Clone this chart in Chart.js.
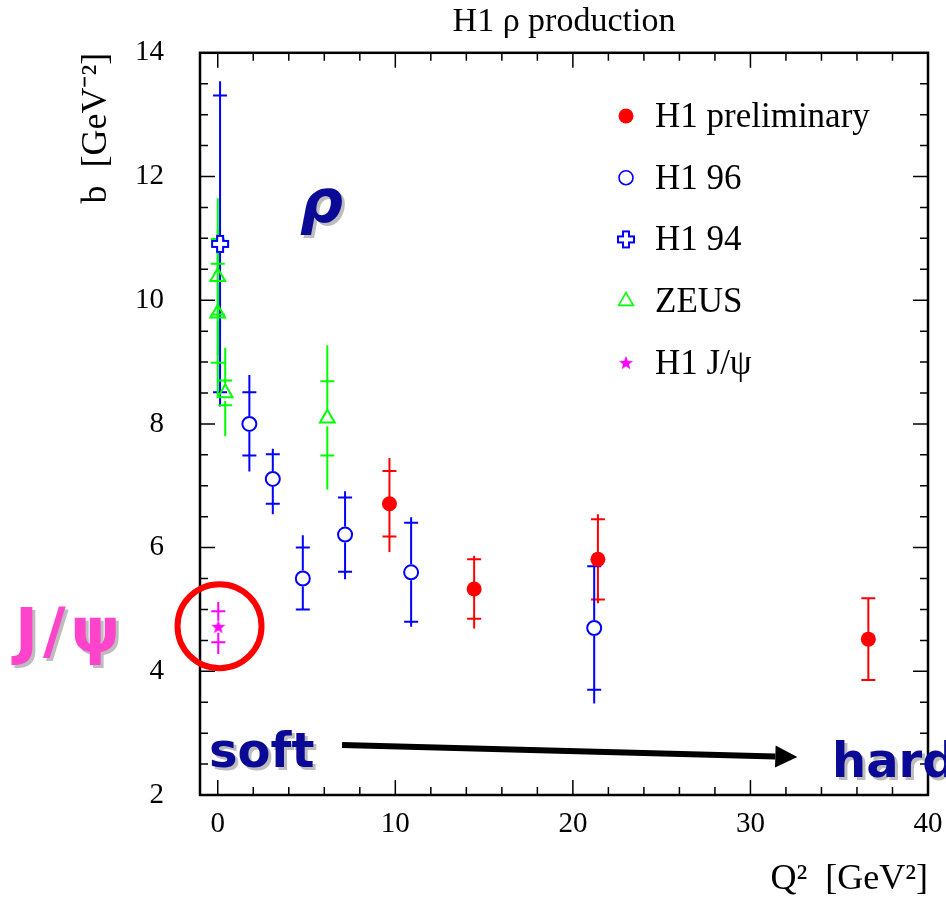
<!DOCTYPE html>
<html>
<head>
<meta charset="utf-8">
<script src="https://cdn.jsdelivr.net/npm/chart.js@4.4.1/dist/chart.umd.min.js"></script>
<style>
  html, body { margin: 0; padding: 0; background: #fff; }
  canvas { display: block; }
</style>
</head>
<body>
<canvas id="bChart" width="946" height="901"></canvas>
<script>
// axis ticks
const xTickValues = [0, 2, 4, 6, 8, 10, 12, 14, 16, 18, 20, 22, 24, 26, 28, 30, 32, 34, 36, 38, 40];
const yTickValues = [2, 2.5, 3, 3.5, 4, 4.5, 5, 5.5, 6, 6.5, 7, 7.5, 8, 8.5, 9, 9.5, 10, 10.5, 11, 11.5, 12, 12.5, 13, 13.5, 14];

// H1 preliminary
const prelimQ2 = [9.67, 14.44, 21.41, 36.64];
const prelimB = [6.71, 5.33, 5.81, 4.52];
const prelimStat = [0.53, 0.48, 0.65, 0.66];
const prelimTotUp = [0.74, 0.54, 0.73, 0.67];
const prelimTotDn = [0.78, 0.64, 0.71, 0.67];

// H1 96
const h196Q2 = [1.78, 3.10, 4.79, 7.17, 10.89, 21.20];
const h196B = [8.00, 7.11, 5.50, 6.21, 5.60, 4.70];
const h196Stat = [0.51, 0.40, 0.50, 0.60, 0.80, 1.00];
const h196TotUp = [0.79, 0.49, 0.70, 0.70, 0.89, 1.21];
const h196TotDn = [0.77, 0.57, 0.51, 0.72, 0.88, 1.22];

// H1 94
const h194Q2 = [0.13];
const h194B = [10.91];
const h194Stat = [2.40];
const h194TotUp = [2.63];
const h194TotDn = [2.63];

// ZEUS
const zeusQ2 = [0.0, 0.0, 0.42, 6.17];
const zeusB = [10.38, 9.79, 8.50, 8.09];
const zeusStat = [0.61, 0.80, 0.20, 0.60];
const zeusTotUp = [1.27, 1.35, 0.73, 1.18];
const zeusTotDn = [1.27, 1.35, 0.70, 1.15];

// H1 J/psi
const jpsiQ2 = [0.03];
const jpsiB = [4.72];
const jpsiStat = [0.25];
const jpsiTotUp = [0.40];
const jpsiTotDn = [0.44];

function makePoints(q2, b, stat, up, dn) {
  return q2.map((x, i) => ({ x: x, y: b[i], stat: stat[i], up: up[i], dn: dn[i] }));
}

// open cross marker
function openCross(color) {
  const c = document.createElement('canvas');
  c.width = 20; c.height = 20;
  const g = c.getContext('2d');
  const m = 10, a = 3, l = 8;
  g.beginPath();
  g.moveTo(m - a, m - l); g.lineTo(m + a, m - l); g.lineTo(m + a, m - a);
  g.lineTo(m + l, m - a); g.lineTo(m + l, m + a); g.lineTo(m + a, m + a);
  g.lineTo(m + a, m + l); g.lineTo(m - a, m + l); g.lineTo(m - a, m + a);
  g.lineTo(m - l, m + a); g.lineTo(m - l, m - a); g.lineTo(m - a, m - a);
  g.closePath();
  g.fillStyle = '#fff';
  g.fill();
  g.strokeStyle = color;
  g.lineWidth = 2;
  g.stroke();
  return c;
}

// filled star marker
function filledStar(color) {
  const c = document.createElement('canvas');
  c.width = 16; c.height = 16;
  const g = c.getContext('2d');
  g.beginPath();
  for (let i = 0; i < 10; i++) {
    const r = i % 2 === 0 ? 7.5 : 3;
    const ang = -Math.PI / 2 + i * Math.PI / 5;
    const px = 8 + r * Math.cos(ang), py = 8.5 + r * Math.sin(ang);
    if (i === 0) g.moveTo(px, py); else g.lineTo(px, py);
  }
  g.closePath();
  g.fillStyle = color;
  g.fill();
  return c;
}

const datasets = [
  { label: 'H1 preliminary', data: makePoints(prelimQ2, prelimB, prelimStat, prelimTotUp, prelimTotDn),
    pointStyle: 'circle', pointRadius: 7.5, backgroundColor: '#ff0000', borderColor: '#ff0000', borderWidth: 0, gap: 0 },
  { label: 'H1 96', data: makePoints(h196Q2, h196B, h196Stat, h196TotUp, h196TotDn),
    pointStyle: 'circle', pointRadius: 7, backgroundColor: 'rgba(255,255,255,0)', borderColor: '#0000ff', borderWidth: 2, gap: 8 },
  { label: 'H1 94', data: makePoints(h194Q2, h194B, h194Stat, h194TotUp, h194TotDn),
    pointStyle: openCross('#0000ff'), pointRadius: 9, backgroundColor: '#0000ff', borderColor: '#0000ff', borderWidth: 2, gap: 9 },
  { label: 'ZEUS', data: makePoints(zeusQ2, zeusB, zeusStat, zeusTotUp, zeusTotDn),
    pointStyle: 'triangle', pointRadius: 8.5, backgroundColor: 'rgba(255,255,255,0)', borderColor: '#00ff00', borderWidth: 2, gap: 8 },
  { label: 'H1 J/\u03c8', data: makePoints(jpsiQ2, jpsiB, jpsiStat, jpsiTotUp, jpsiTotDn),
    pointStyle: filledStar('#ff00ff'), pointRadius: 7, backgroundColor: '#ff00ff', borderColor: '#ff00ff', borderWidth: 0, gap: 6 }
];

// error bars: full line = total error, small bars = statistical error
const errorBars = {
  id: 'errorBars',
  beforeDatasetsDraw(chart) {
    const { ctx, scales: { x, y } } = chart;
    ctx.save();
    ctx.lineWidth = 2;
    chart.data.datasets.forEach(ds => {
      ctx.strokeStyle = ds.borderColor;
      ds.data.forEach(p => {
        const px = x.getPixelForValue(p.x), py = y.getPixelForValue(p.y);
        const top = y.getPixelForValue(p.y + p.up), bot = y.getPixelForValue(p.y - p.dn);
        const sTop = y.getPixelForValue(p.y + p.stat), sBot = y.getPixelForValue(p.y - p.stat);
        ctx.beginPath();
        ctx.moveTo(px, top); ctx.lineTo(px, py - ds.gap);
        ctx.moveTo(px, py + ds.gap); ctx.lineTo(px, bot);
        ctx.moveTo(px - 7, sTop); ctx.lineTo(px + 7, sTop);
        ctx.moveTo(px - 7, sBot); ctx.lineTo(px + 7, sBot);
        ctx.stroke();
      });
    });
    ctx.restore();
  }
};

function drawMarker(ctx, ds, x, y) {
  const st = ds.pointStyle;
  ctx.save();
  if (st instanceof HTMLCanvasElement) {
    ctx.drawImage(st, x - st.width / 2, y - st.height / 2);
  } else if (st === 'circle') {
    ctx.beginPath();
    ctx.arc(x, y, ds.pointRadius, 0, Math.PI * 2);
    if (ds.borderWidth > 0) { ctx.lineWidth = 1.6; ctx.strokeStyle = ds.borderColor; ctx.stroke(); }
    else { ctx.fillStyle = ds.backgroundColor; ctx.fill(); }
  } else if (st === 'triangle') {
    const r = ds.pointRadius;
    ctx.beginPath();
    for (let i = 0; i < 3; i++) {
      const a = i * 2 * Math.PI / 3;
      const px = x + Math.sin(a) * r, py = y - Math.cos(a) * r;
      if (i === 0) ctx.moveTo(px, py); else ctx.lineTo(px, py);
    }
    ctx.closePath();
    ctx.lineWidth = 1.6;
    ctx.strokeStyle = ds.borderColor;
    ctx.stroke();
  }
  ctx.restore();
}

function shadowText(ctx, text, x, y, font, color, spacing) {
  ctx.font = font;
  ctx.letterSpacing = spacing || '0px';
  ctx.textBaseline = 'alphabetic';
  ctx.textAlign = 'left';
  ctx.fillStyle = '#bdbdbd';
  ctx.fillText(text, x + 3, y + 3);
  ctx.fillStyle = color;
  ctx.fillText(text, x, y);
  ctx.letterSpacing = '0px';
}

// frame, inward ticks, legend and annotations
const frameAndNotes = {
  id: 'frameAndNotes',
  afterDraw(chart) {
    const { ctx, chartArea: a, scales: { x, y } } = chart;
    ctx.save();
    ctx.strokeStyle = '#000';
    ctx.lineWidth = 1.5;
    ctx.beginPath();
    x.ticks.forEach(t => {
      const px = x.getPixelForValue(t.value);
      const len = t.value % 10 === 0 ? 15 : 8;
      ctx.moveTo(px, a.bottom); ctx.lineTo(px, a.bottom - len);
      ctx.moveTo(px, a.top); ctx.lineTo(px, a.top + len);
    });
    y.ticks.forEach(t => {
      const py = y.getPixelForValue(t.value);
      const len = t.value % 2 === 0 ? 15 : 8;
      ctx.moveTo(a.left, py); ctx.lineTo(a.left + len, py);
      ctx.moveTo(a.right, py); ctx.lineTo(a.right - len, py);
    });
    ctx.stroke();
    ctx.lineWidth = 2.5;
    ctx.strokeRect(a.left, a.top, a.right - a.left, a.bottom - a.top);

    // legend
    ctx.textAlign = 'left';
    ctx.textBaseline = 'alphabetic';
    chart.data.datasets.forEach((ds, i) => {
      const ly = 116 + i * 61.7;
      drawMarker(ctx, ds, 626, ly);
      ctx.fillStyle = '#000';
      ctx.font = '35px "Liberation Serif"';
      ctx.fillText(ds.label, 655, ly + 11);
    });

    // soft -> hard arrow
    const x0 = x.getPixelForValue(7.0), y0 = y.getPixelForValue(2.81);
    const x1 = x.getPixelForValue(32.64), y1 = y.getPixelForValue(2.615);
    const ang = Math.atan2(y1 - y0, x1 - x0);
    const hx = x1 - 22 * Math.cos(ang), hy = y1 - 22 * Math.sin(ang);
    ctx.strokeStyle = '#000';
    ctx.fillStyle = '#000';
    ctx.lineWidth = 6;
    ctx.beginPath();
    ctx.moveTo(x0, y0); ctx.lineTo(hx, hy);
    ctx.stroke();
    ctx.beginPath();
    ctx.moveTo(x1, y1);
    ctx.lineTo(hx + 11 * Math.sin(ang), hy - 11 * Math.cos(ang));
    ctx.lineTo(hx - 11 * Math.sin(ang), hy + 11 * Math.cos(ang));
    ctx.closePath();
    ctx.fill();

    // circle around J/psi
    ctx.strokeStyle = '#ff0000';
    ctx.lineWidth = 6;
    ctx.beginPath();
    ctx.arc(x.getPixelForValue(0.1), y.getPixelForValue(4.73), 42, 0, Math.PI * 2);
    ctx.stroke();

    const navy = '#0a0a96';
    shadowText(ctx, '\u03c1', 300, 222, 'bold italic 60px "DejaVu Sans"', navy);
    shadowText(ctx, 'J/\u03c8', 15, 652, 'bold 62px "DejaVu Sans"', '#ff44cc', '5px');
    shadowText(ctx, 'soft', 209, 767, 'bold 48px "DejaVu Sans"', navy);
    shadowText(ctx, 'hard', 832, 777, 'bold 48px "DejaVu Sans"', navy);
    ctx.restore();
  }
};

const serif = '"Liberation Serif", "Times New Roman", serif';

new Chart(document.getElementById('bChart'), {
  type: 'scatter',
  data: { datasets: datasets },
  options: {
    responsive: false,
    animation: false,
    layout: { padding: { top: 0, right: 18, bottom: 0, left: 0 } },
    plugins: {
      legend: { display: false },
      tooltip: { enabled: false },
      title: {
        display: true,
        text: 'H1 \u03c1 production',
        fullSize: false,
        color: '#000',
        font: { family: serif, size: 34, weight: 'normal' },
        padding: { top: 2, bottom: 10 }
      }
    },
    scales: {
      x: {
        type: 'linear',
        min: -1,
        max: 40,
        afterBuildTicks: s => { s.ticks = xTickValues.map(v => ({ value: v })); },
        afterFit: s => { s.height = 106; s.paddingLeft = 0; s.paddingRight = 0; },
        grid: { display: false, drawTicks: false },
        border: { display: false },
        ticks: {
          autoSkip: false,
          maxRotation: 0,
          padding: 12,
          color: '#000',
          font: { family: serif, size: 29 },
          callback: v => (v % 10 === 0 ? String(v) : '')
        },
        title: {
          display: true,
          text: 'Q\u00b2  [GeV\u00b2]',
          align: 'end',
          color: '#000',
          font: { family: serif, size: 36 },
          padding: { top: 0, bottom: 0 }
        }
      },
      y: {
        type: 'linear',
        min: 2,
        max: 14,
        afterBuildTicks: s => { s.ticks = yTickValues.map(v => ({ value: v })); },
        afterFit: s => { s.width = 200; s.paddingTop = 0; s.paddingBottom = 0; },
        grid: { display: false, drawTicks: false },
        border: { display: false },
        ticks: {
          autoSkip: false,
          padding: 36,
          color: '#000',
          font: { family: serif, size: 29 },
          callback: v => (v % 2 === 0 ? String(v) : '')
        },
        title: {
          display: true,
          text: 'b  [GeV\u207b\u00b2]',
          align: 'end',
          color: '#000',
          font: { family: serif, size: 36 },
          padding: { top: 75, bottom: 0 }
        }
      }
    }
  },
  plugins: [errorBars, frameAndNotes]
});
</script>
</body>
</html>
